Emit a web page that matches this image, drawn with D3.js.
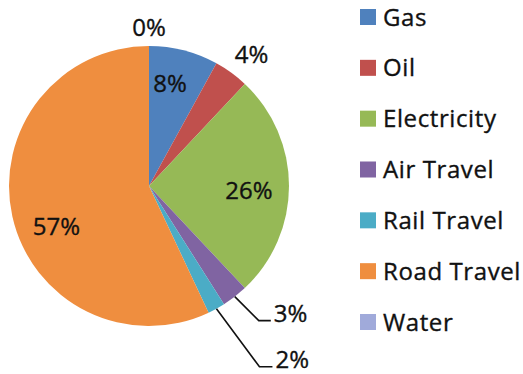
<!DOCTYPE html>
<html>
<head>
<meta charset="utf-8">
<script src="https://cdn.jsdelivr.net/npm/d3@7/dist/d3.min.js"></script>
<style>
  html, body { margin: 0; padding: 0; background: #ffffff; }
  svg { display: block; }
  text { font-family: "Open Sans", Lato, sans-serif; fill: #111; stroke: #111; stroke-width: 0.35px; }
  .item text { letter-spacing: 0.6px; }
</style>
</head>
<body>
<svg id="chart" width="523" height="374"></svg>
<script>
// Energy use by source (percent of total)
const categories = ["Gas", "Oil", "Electricity", "Air Travel", "Rail Travel", "Road Travel", "Water"];
const shares = [8, 4, 26, 3, 2, 57, 0];
const colors = ["#4F81BD", "#C0504D", "#96B956", "#8064A2", "#4BACC6", "#EF8E3F", "#A0AADA"];

// How each percentage label is placed: inside the slice, just outside it,
// or off to the side with a bent leader line. "turn" nudges the angle (degrees).
const labelPlacement = [
  { mode: "inside", k: 0.745, turn: -2.8 },
  { mode: "outside", k: 1.19, turn: 2 },
  { mode: "inside", k: 0.715, turn: 2.3 },
  { mode: "leader", bend: [24, 24], run: 12 },
  { mode: "leader", bend: [43, 58], run: 13 },
  { mode: "inside", k: 0.72, turn: -10.7 },
  { mode: "outside", k: 1.135, turn: 0 }
];

const svg = d3.select("#chart");
const cx = 149, cy = 186, radius = 140;

const pie = d3.pie().sort(null).value(d => d)(shares);
const arc = d3.arc().innerRadius(0).outerRadius(radius);
const color = d3.scaleOrdinal().domain(categories).range(colors);

const g = svg.append("g").attr("transform", `translate(${cx},${cy})`);

g.selectAll("path.slice")
  .data(pie)
  .join("path")
  .attr("class", "slice")
  .attr("d", arc)
  .attr("fill", (d, i) => color(categories[i]));

// Point at distance r along the slice's middle angle, turned by `turn` degrees
function polar(d, r, turn = 0) {
  const a = (d.startAngle + d.endAngle) / 2 + turn * Math.PI / 180;
  return [Math.sin(a) * r, -Math.cos(a) * r];
}

const fontSize = 24;
pie.forEach((d, i) => {
  const p = labelPlacement[i];
  const txt = `${shares[i]}%`;
  if (p.mode === "leader") {
    const start = polar(d, radius);
    const bend = [start[0] + p.bend[0], start[1] + p.bend[1]];
    const end = [bend[0] + p.run, bend[1]];
    g.append("path")
      .attr("d", d3.line()([start, bend, end]))
      .attr("fill", "none")
      .attr("stroke", "#111")
      .attr("stroke-width", 1.6);
    g.append("text")
      .attr("x", end[0] + 3)
      .attr("y", end[1] + 1)
      .attr("font-size", fontSize)
      .attr("text-anchor", "start")
      .text(txt);
  } else {
    const c = polar(d, radius * p.k, p.turn);
    g.append("text")
      .attr("x", c[0])
      .attr("y", c[1])
      .attr("dy", "0.36em")
      .attr("font-size", fontSize)
      .attr("text-anchor", "middle")
      .text(txt);
  }
});

// Legend
const legendY = d3.scalePoint().domain(categories).range([17, 322]);
const legend = svg.append("g");
const item = legend.selectAll("g.item")
  .data(categories)
  .join("g")
  .attr("class", "item")
  .attr("transform", c => `translate(360,${legendY(c)})`);

item.append("rect")
  .attr("x", 0).attr("y", -8)
  .attr("width", 16).attr("height", 16)
  .attr("fill", c => color(c));

item.append("text")
  .attr("x", 23)
  .attr("y", 0)
  .attr("dy", "0.36em")
  .attr("font-size", fontSize)
  .text(c => c);
</script>
</body>
</html>
